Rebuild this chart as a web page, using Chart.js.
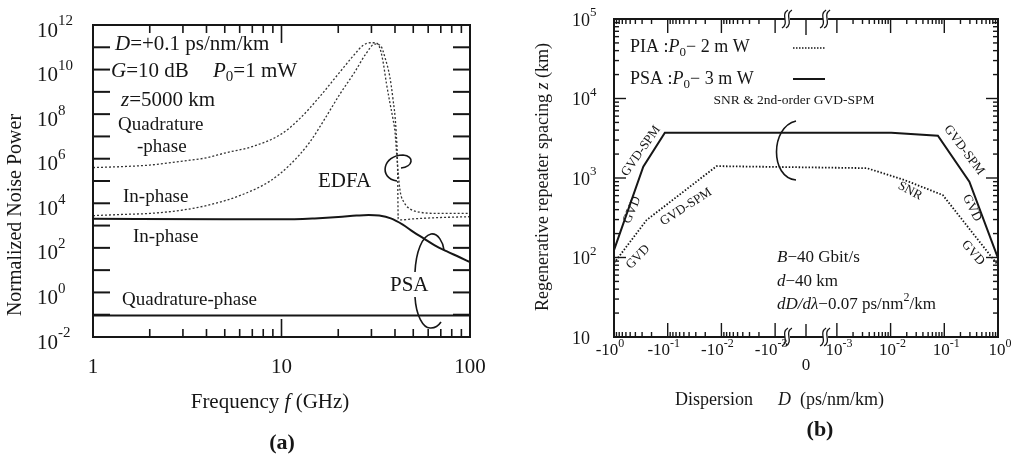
<!DOCTYPE html>
<html>
<head>
<meta charset="utf-8">
<script src="https://cdn.jsdelivr.net/npm/chart.js@4/dist/chart.umd.min.js"></script>
<style>
body { margin: 0; background: #fff; width: 1011px; height: 454px; overflow: hidden; position: relative; }
canvas { position: absolute; top: 0; }
#chartA { left: 0; }
#chartB { left: 500px; }
</style>
</head>
<body>
<canvas id="chartA" width="500" height="454"></canvas>
<canvas id="chartB" width="511" height="454"></canvas>
<script>
// ---- (a) normalized noise power vs frequency ----
const edfaQuadFreq  = [1, 1.5, 2, 3, 4, 5, 7, 10, 12.5, 16, 20, 24.5, 27, 29.5, 31, 33, 34.5, 36, 37.6, 39, 40, 41, 42.5, 45, 48, 54, 70, 100];
const edfaQuadPower = [4.0e5, 4.5e5, 5.2e5, 7.9e5, 1.1e6, 1.8e6, 3.5e6, 1.3e7, 6.3e7, 6.3e8, 6.3e9, 5.0e10, 1.2e11, 1.6e11, 1.6e11, 1.1e11, 2.5e10, 2.5e9, 3.2e8, 6.3e7, 1.6e7, 1.0e6, 4.0e4, 1.0e4, 5.6e3, 4.0e3, 3.5e3, 3.5e3];
const edfaInFreq  = [1, 1.5, 2, 3, 4, 6, 8.7, 11, 14, 17, 20.4, 24.5, 28, 31.3, 33.5, 35.5, 37.5, 39, 40.5, 41.3, 41.6, 43, 50, 70, 100];
const edfaInPower = [2.8e3, 3.2e3, 3.5e3, 5.0e3, 7.9e3, 2.2e4, 1.0e5, 5.0e5, 5.0e6, 6.3e7, 7.9e8, 7.9e9, 5.0e10, 1.4e11, 1.2e11, 3.2e10, 5.0e9, 5.0e8, 2.0e7, 3.2e5, 2.0e3, 1.8e3, 2.0e3, 2.3e3, 2.5e3];
const psaInFreq  = [1, 5, 10, 15, 20, 25, 29, 33, 38, 44, 50, 57, 65, 75, 87, 100];
const psaInPower = [2.0e3, 1.9e3, 1.9e3, 2.1e3, 2.4e3, 2.8e3, 3.0e3, 2.8e3, 2.1e3, 1.1e3, 5.2e2, 2.6e2, 1.3e2, 71, 40, 23];
const psaQuadFreq  = [1, 100];
const psaQuadPower = [0.092, 0.092];
const aFreqLabels = [1, 10, 100];
const aPowerExps = [-2, 0, 2, 4, 6, 8, 10, 12];

// ---- (b) repeater spacing vs dispersion ----
const piaDisp    = [-1, -0.247, -0.0123, 0.0036, 0.018, 0.0935, 1];
const piaSpacing = [85, 296, 1410, 1330, 944, 611, 80];
const psaDisp    = [-1, -0.285, -0.113, 0.0103, 0.076, 0.293, 1];
const psaSpacing = [124, 1390, 3720, 3700, 3400, 900, 98];
const bDispTicks = [-1, -0.1, -0.01, -0.001, 0, 0.001, 0.01, 0.1, 1];
const bSpacingExps = [1, 2, 3, 4, 5];

// half-width of the broken zone around D = 0, in decades
const GAP = 0.575;
const toAxis = d => d === 0 ? 0 : Math.sign(d) * (Math.log10(Math.abs(d)) + 3 + GAP);

const ink = '#161616';
const serif = '"Liberation Serif", "Times New Roman", serif';
function font(size, style) { return (style || '') + ' ' + size + 'px ' + serif; }
function seg(ctx, x1, y1, x2, y2) { ctx.beginPath(); ctx.moveTo(x1, y1); ctx.lineTo(x2, y2); ctx.stroke(); }

function partFont(f, size) {
    const small = f === 'sub' || f === 'sup';
    const s = small ? Math.round(size * 0.7) : size;
    return font(s, f === 'i' ? 'italic' : (f === 'b' ? 'bold' : ''));
}
function richWidth(ctx, parts, size) {
    let w = 0;
    for (const [t, f] of parts) { ctx.font = partFont(f, size); w += ctx.measureText(t).width; }
    return w;
}
function drawRich(ctx, parts, x, y, size, align) {
    let cx = x;
    if (align === 'center') cx -= richWidth(ctx, parts, size) / 2;
    if (align === 'right') cx -= richWidth(ctx, parts, size);
    ctx.textAlign = 'left';
    ctx.textBaseline = 'middle';
    for (const [t, f] of parts) {
        let dy = 0;
        if (f === 'sub') dy = size * 0.3;
        if (f === 'sup') dy = -size * 0.45;
        ctx.font = partFont(f, size);
        ctx.fillText(t, cx, y + dy);
        cx += ctx.measureText(t).width;
    }
}
function rotText(ctx, parts, cx, cy, size, deg) {
    ctx.save();
    ctx.translate(cx, cy);
    ctx.rotate(deg * Math.PI / 180);
    drawRich(ctx, parts, 0, 0, size, 'center');
    ctx.restore();
}
function curve(ctx, pts) {
    ctx.beginPath();
    ctx.moveTo(pts[0], pts[1]);
    for (let i = 2; i < pts.length; i += 6) ctx.bezierCurveTo(pts[i], pts[i + 1], pts[i + 2], pts[i + 3], pts[i + 4], pts[i + 5]);
    ctx.stroke();
}

function series(xs, ys, extra) {
    return Object.assign({
        data: xs.map((v, i) => ({ x: v, y: ys[i] })),
        borderColor: ink,
        borderWidth: 2,
        pointRadius: 0,
        fill: false
    }, extra);
}

const panelA = {
    id: 'panelA',
    afterDraw(chart) {
        const { ctx, chartArea: a, scales: { x, y } } = chart;
        ctx.save();
        ctx.strokeStyle = ink;
        ctx.fillStyle = ink;
        ctx.lineWidth = 2;
        ctx.strokeRect(a.left, a.top, a.right - a.left, a.bottom - a.top);

        // decade ticks on both sides
        for (let e = -2; e <= 12; e++) {
            const py = y.getPixelForValue(10 ** e);
            seg(ctx, a.left, py, a.left + 17, py);
            seg(ctx, a.right - 17, py, a.right, py);
        }
        // frequency ticks, top and bottom
        ctx.lineWidth = 1.6;
        for (let d = 1; d <= 10; d *= 10) {
            for (let m = 1; m <= 9; m++) {
                const v = m * d;
                if (v === 1) continue;
                const px = x.getPixelForValue(v);
                const len = m === 1 ? 18 : 8;
                seg(ctx, px, a.bottom, px, a.bottom - len);
                seg(ctx, px, a.top, px, a.top + len);
            }
        }

        // tick labels
        aPowerExps.forEach(e => {
            const py = y.getPixelForValue(10 ** e);
            drawRich(ctx, [['10'], [String(e), 'sup']], 37, py + 6, 21, 'left');
        });
        aFreqLabels.forEach(f => {
            drawRich(ctx, [[String(f)]], x.getPixelForValue(f), a.bottom + 30, 21, 'center');
        });

        // axis titles
        drawRich(ctx, [['Frequency '], ['f', 'i'], [' (GHz)']], 270, 402, 21, 'center');
        ctx.save();
        ctx.translate(16, 215);
        ctx.rotate(-Math.PI / 2);
        drawRich(ctx, [['Normalized Noise Power']], 0, 0, 20, 'center');
        ctx.restore();
        drawRich(ctx, [['(a)', 'b']], 282, 443, 22, 'center');

        // annotations
        drawRich(ctx, [['D', 'i'], ['=+0.1 ps/nm/km']], 115, 44, 21, 'left');
        drawRich(ctx, [['G', 'i'], ['=10 dB']], 111, 71, 21, 'left');
        drawRich(ctx, [['P', 'i'], ['0', 'sub'], ['=1 mW']], 213, 71, 21, 'left');
        drawRich(ctx, [['z', 'i'], ['=5000 km']], 121, 100, 21, 'left');
        drawRich(ctx, [['Quadrature']], 118, 125, 19, 'left');
        drawRich(ctx, [['-phase']], 137, 147, 19, 'left');
        drawRich(ctx, [['In-phase']], 123, 197, 19, 'left');
        drawRich(ctx, [['EDFA']], 318, 181, 21, 'left');
        drawRich(ctx, [['In-phase']], 133, 237, 19, 'left');
        drawRich(ctx, [['PSA']], 390, 285, 21, 'left');
        drawRich(ctx, [['Quadrature-phase']], 122, 300, 19, 'left');

        // grouping loops
        ctx.lineWidth = 1.6;
        curve(ctx, [397, 181, 378, 178, 383, 155, 403, 155, 415, 156, 413, 167, 401, 168]);
        curve(ctx, [415, 272, 416, 252, 422, 236, 431, 234, 438, 233, 443, 242, 444, 250]);
        curve(ctx, [415, 297, 416, 315, 423, 329, 431, 328, 436, 328, 439, 325, 441, 322]);
        ctx.restore();
    }
};

const panelB = {
    id: 'panelB',
    afterDraw(chart) {
        const { ctx, chartArea: a, scales: { x, y } } = chart;
        ctx.save();
        ctx.strokeStyle = ink;
        ctx.fillStyle = ink;
        ctx.lineWidth = 2;
        ctx.strokeRect(a.left, a.top, a.right - a.left, a.bottom - a.top);

        // spacing ticks
        ctx.lineWidth = 1.4;
        for (let k = 1; k <= 4; k++) {
            for (let m = 1; m <= 9; m++) {
                const py = y.getPixelForValue(m * 10 ** k);
                const len = m === 1 ? 12 : 5;
                seg(ctx, a.left, py, a.left + len, py);
                seg(ctx, a.right - len, py, a.right, py);
            }
        }
        // dispersion ticks
        for (let k = -3; k <= -1; k++) {
            for (let m = 1; m <= 9; m++) {
                [-1, 1].forEach(s => {
                    const px = x.getPixelForValue(toAxis(s * m * 10 ** k));
                    const len = m === 1 ? 14 : 5;
                    seg(ctx, px, a.bottom, px, a.bottom - len);
                    seg(ctx, px, a.top, px, a.top + len);
                });
            }
        }
        const zx = x.getPixelForValue(0);
        seg(ctx, zx, a.bottom, zx, a.bottom - 13);
        seg(ctx, zx, a.top, zx, a.top + 16);

        // axis breaks
        [-0.355, 0.355].forEach(u => {
            const bx = x.getPixelForValue(u);
            [a.top, a.bottom].forEach(by => {
                ctx.fillStyle = '#fff';
                ctx.fillRect(bx - 2, by - 2, 5, 4);
                ctx.fillStyle = ink;
                ctx.lineWidth = 1.3;
                [-2, 2].forEach(o => {
                    curve(ctx, [bx + o - 3, by + 9, bx + o + 5, by + 4, bx + o - 5, by - 4, bx + o + 3, by - 9]);
                });
            });
        });

        // tick labels
        bSpacingExps.forEach(e => {
            const py = y.getPixelForValue(10 ** e);
            const parts = e === 1 ? [['10']] : [['10'], [String(e), 'sup']];
            drawRich(ctx, parts, 72, py + 2, 18, 'left');
        });
        bDispTicks.forEach(d => {
            const px = x.getPixelForValue(toAxis(d));
            if (d === 0) {
                drawRich(ctx, [['0']], px, a.bottom + 29, 17, 'center');
                return;
            }
            const e = Math.round(Math.log10(Math.abs(d)));
            const shift = d < 0 ? -4 : 2;
            drawRich(ctx, [[(d < 0 ? '-' : '') + '10'], [String(e), 'sup']], px + shift, a.bottom + 14, 17, 'center');
        });

        // axis titles
        drawRich(ctx, [['Dispersion']], 175, 400, 18, 'left');
        drawRich(ctx, [['D', 'i'], ['  (ps/nm/km)']], 278, 400, 18, 'left');
        ctx.save();
        ctx.translate(43, 177);
        ctx.rotate(-Math.PI / 2);
        drawRich(ctx, [['Regenerative repeater spacing '], ['z', 'i'], [' (km)']], 0, 0, 18, 'center');
        ctx.restore();
        drawRich(ctx, [['(b)', 'b']], 320, 430, 22, 'center');

        // legend
        drawRich(ctx, [['PIA :'], ['P', 'i'], ['0', 'sub'], ['\u2212 2 m W']], 130, 47, 18, 'left');
        drawRich(ctx, [['PSA :'], ['P', 'i'], ['0', 'sub'], ['\u2212 3 m W']], 130, 79, 18, 'left');
        ctx.lineWidth = 1.4;
        ctx.setLineDash([1.5, 1.5]);
        seg(ctx, 293, 48, 325, 48);
        ctx.setLineDash([]);
        ctx.lineWidth = 2;
        seg(ctx, 293, 79, 325, 79);

        // annotations
        drawRich(ctx, [['SNR & 2nd-order GVD-SPM']], 294, 100, 13.5, 'center');
        ctx.lineWidth = 1.6;
        curve(ctx, [296, 121, 270, 127, 270, 178, 296, 180]);
        drawRich(ctx, [['B', 'i'], ['\u221240 Gbit/s']], 277, 258, 17, 'left');
        drawRich(ctx, [['d', 'i'], ['\u221240 km']], 277, 282, 17, 'left');
        drawRich(ctx, [['dD/d\u03bb', 'i'], ['\u22120.07 ps/nm'], ['2', 'sup'], ['/km']], 277, 305, 17, 'left');

        rotText(ctx, [['GVD-SPM']], 141, 151, 13, -55);
        rotText(ctx, [['GVD']], 132, 210, 13, -67);
        rotText(ctx, [['GVD-SPM']], 186, 207, 13, -33);
        rotText(ctx, [['GVD']], 138, 257, 13, -46);
        rotText(ctx, [['GVD-SPM']], 464, 150, 13, 53);
        rotText(ctx, [['GVD']], 472, 208, 13, 64);
        rotText(ctx, [['SNR']], 410, 191, 13, 28);
        rotText(ctx, [['GVD']], 473, 253, 13, 49);
        ctx.restore();
    }
};

new Chart(document.getElementById('chartA'), {
    type: 'line',
    data: {
        datasets: [
            series(edfaQuadFreq, edfaQuadPower, { borderWidth: 1.3, borderDash: [2, 2], borderColor: '#333', cubicInterpolationMode: 'monotone' }),
            series(edfaInFreq, edfaInPower, { borderWidth: 1.3, borderDash: [2, 2], borderColor: '#333', cubicInterpolationMode: 'monotone' }),
            series(psaInFreq, psaInPower, { cubicInterpolationMode: 'monotone' }),
            series(psaQuadFreq, psaQuadPower, {})
        ]
    },
    options: {
        responsive: false,
        animation: false,
        devicePixelRatio: 1,
        layout: { padding: { left: 93, top: 25, right: 30, bottom: 117 } },
        plugins: { legend: { display: false }, tooltip: { enabled: false } },
        scales: {
            x: { type: 'logarithmic', min: 1, max: 100, display: false },
            y: { type: 'logarithmic', min: 1e-2, max: 1e12, display: false }
        }
    },
    plugins: [panelA]
});

new Chart(document.getElementById('chartB'), {
    type: 'line',
    data: {
        datasets: [
            series(piaDisp.map(toAxis), piaSpacing, { borderWidth: 1.8, borderDash: [1.5, 1.8] }),
            series(psaDisp.map(toAxis), psaSpacing, { borderWidth: 2 })
        ]
    },
    options: {
        responsive: false,
        animation: false,
        devicePixelRatio: 1,
        layout: { padding: { left: 114, top: 19, right: 13, bottom: 117 } },
        plugins: { legend: { display: false }, tooltip: { enabled: false } },
        scales: {
            x: { type: 'linear', min: -(3 + GAP), max: 3 + GAP, display: false },
            y: { type: 'logarithmic', min: 10, max: 1e5, display: false }
        }
    },
    plugins: [panelB]
});
</script>
</body>
</html>
